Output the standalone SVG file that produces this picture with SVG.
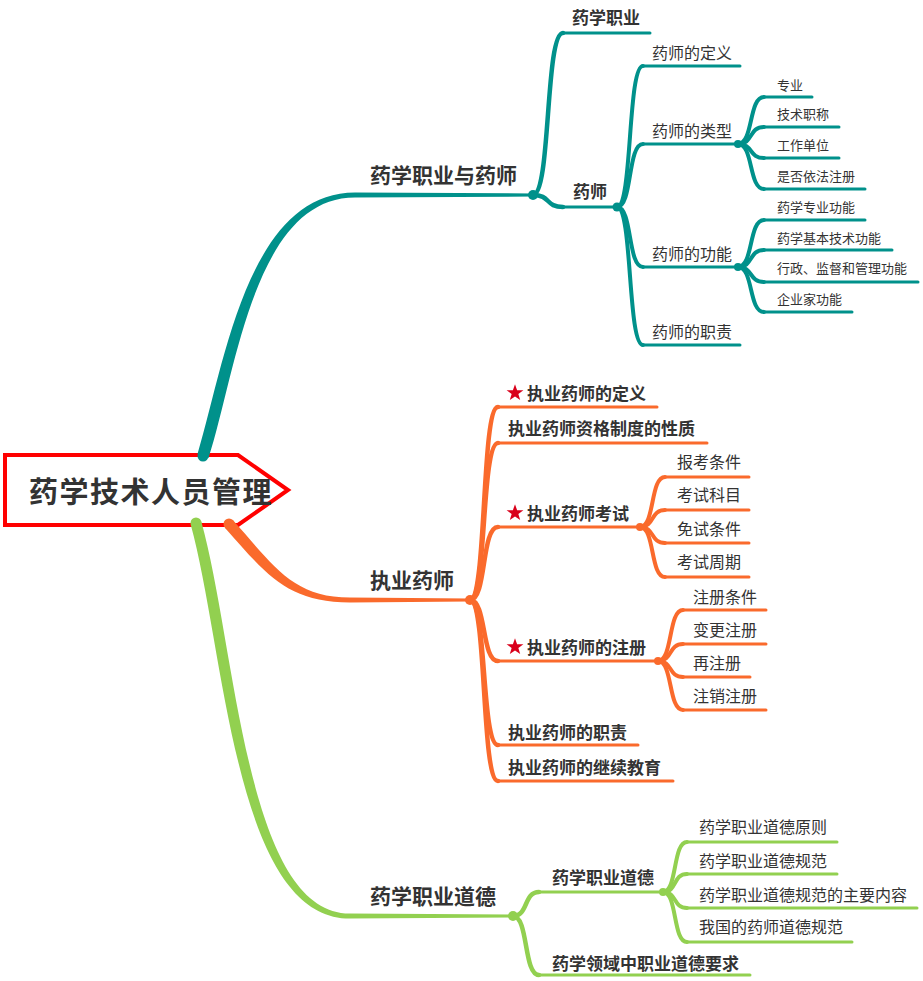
<svg xmlns="http://www.w3.org/2000/svg" width="923" height="981" viewBox="0 0 923 981">
<style>
text{font-family:"Noto Sans CJK SC","Noto Sans CJK JP",sans-serif;fill:#333}
.root{font-size:29px;font-weight:bold;letter-spacing:1.5px}
.l1{font-size:21px;font-weight:bold}
.l2{font-size:17px;font-weight:bold}
.l3{font-size:16px}
.l4{font-size:13px}
.t{stroke:#00918b;fill:none;stroke-linecap:round}
.o{stroke:#fa6a2c;fill:none;stroke-linecap:round}
.g{stroke:#92d050;fill:none;stroke-linecap:round}
.c{stroke-width:4.5}
.c2{stroke-width:4}
.u{stroke-width:3}
</style>
<defs>
<polygon id="star" points="0,-8.8 2.1,-2.85 8.4,-2.73 3.35,1.1 5.2,7.1 0,3.5 -5.2,7.1 -3.35,1.1 -8.4,-2.73 -2.1,-2.85" fill="#d9001b"/>
</defs>
<g id="root">
<polygon points="5,455 238,455 288,490 238,525 5,525" fill="#fff" stroke="#ff0000" stroke-width="4" stroke-linejoin="miter"/>
<text class="root" x="29" y="503">药学技术人员管理</text>
</g>
<g id="connectors">
<!-- main branches -->
<path d="M197.5,454 C224,367 247,192.5 355,192.5 L533,193.5 L533,196.5 L355,197.5 C254,197.5 236,373 208.5,458 Z" fill="#00918b"/>
<circle cx="203" cy="456" r="5.5" fill="#00918b"/>
<circle cx="533" cy="195" r="5" fill="#00918b"/>
<path d="M233.1,520.3 C274,566 293,597.5 350,597.5 L470,598.5 L470,601.5 L350,602.5 C287,602.5 266,574 224.9,527.7 Z" fill="#fa6a2c"/>
<circle cx="229" cy="524" r="5.5" fill="#fa6a2c"/>
<circle cx="470" cy="600" r="5" fill="#fa6a2c"/>
<path d="M201.3,521.5 C236.5,648 245.5,913.5 350,913.5 L513,914.5 L513,917.5 L350,918.5 C234.5,918.5 225.5,652 190.7,524.5 Z" fill="#92d050"/>
<circle cx="196" cy="523" r="5.5" fill="#92d050"/>
<circle cx="513" cy="916" r="5" fill="#92d050"/>
<!-- teal level 1 -->
<path class="t c" d="M533,195 C551,195 545,33 563,33"/>
<path class="t u" d="M563,33 L650,33"/>
<path class="t c" d="M533,195 C551,195 545,207 563,207"/>
<path class="t u" d="M563,207 L617,207"/>
<circle cx="617" cy="207" r="4.5" fill="#00918b"/>
<!-- teal level 2 -->
<path class="t c2" d="M617,207 C632.6,207 627.4,66 643,66"/>
<path class="t u" d="M643,66 L740,66"/>
<path class="t c2" d="M617,207 C632.6,207 627.4,144 643,144"/>
<path class="t u" d="M643,144 L738,144"/>
<path class="t c2" d="M617,207 C632.6,207 627.4,267 643,267"/>
<path class="t u" d="M643,267 L738,267"/>
<path class="t c2" d="M617,207 C632.6,207 627.4,345 643,345"/>
<path class="t u" d="M643,345 L740,345"/>
<circle cx="738" cy="144" r="4" fill="#00918b"/>
<circle cx="738" cy="267" r="4" fill="#00918b"/>
<!-- teal level 3 -->
<path class="t c2" d="M738,144 C753.6,144 748.4,97 764,97"/>
<path class="t u" d="M764,97 L812,97"/>
<path class="t c2" d="M738,144 C753.6,144 748.4,127 764,127"/>
<path class="t u" d="M764,127 L839,127"/>
<path class="t c2" d="M738,144 C753.6,144 748.4,158 764,158"/>
<path class="t u" d="M764,158 L839,158"/>
<path class="t c2" d="M738,144 C753.6,144 748.4,189 764,189"/>
<path class="t u" d="M764,189 L865,189"/>
<path class="t c2" d="M738,267 C753.6,267 748.4,220 764,220"/>
<path class="t u" d="M764,220 L865,220"/>
<path class="t c2" d="M738,267 C753.6,267 748.4,250 764,250"/>
<path class="t u" d="M764,250 L892,250"/>
<path class="t c2" d="M738,267 C753.6,267 748.4,282 764,282"/>
<path class="t u" d="M764,282 L918,282"/>
<path class="t c2" d="M738,267 C753.6,267 748.4,312 764,312"/>
<path class="t u" d="M764,312 L852,312"/>
<!-- orange level 1 -->
<path class="o c" d="M470,600 C486.8,600 481.2,407 498,407"/>
<path class="o u" d="M498,407 L657,407"/>
<path class="o c" d="M470,600 C486.8,600 481.2,443 498,443"/>
<path class="o u" d="M498,443 L707,443"/>
<path class="o c" d="M470,600 C486.8,600 481.2,527 498,527"/>
<path class="o u" d="M498,527 L640,527"/>
<path class="o c" d="M470,600 C486.8,600 481.2,661 498,661"/>
<path class="o u" d="M498,661 L658,661"/>
<path class="o c" d="M470,600 C486.8,600 481.2,745 498,745"/>
<path class="o u" d="M498,745 L638,745"/>
<path class="o c" d="M470,600 C486.8,600 481.2,781 498,781"/>
<path class="o u" d="M498,781 L673,781"/>
<circle cx="640" cy="527" r="4" fill="#fa6a2c"/>
<circle cx="658" cy="661" r="4" fill="#fa6a2c"/>
<!-- orange level 2 -->
<path class="o c2" d="M640,527 C655,527 650,477 665,477"/>
<path class="o u" d="M665,477 L749,477"/>
<path class="o c2" d="M640,527 C655,527 650,510 665,510"/>
<path class="o u" d="M665,510 L749,510"/>
<path class="o c2" d="M640,527 C655,527 650,543 665,543"/>
<path class="o u" d="M665,543 L749,543"/>
<path class="o c2" d="M640,527 C655,527 650,577 665,577"/>
<path class="o u" d="M665,577 L749,577"/>
<path class="o c2" d="M658,661 C673,661 668,610 683,610"/>
<path class="o u" d="M683,610 L766,610"/>
<path class="o c2" d="M658,661 C673,661 668,644 683,644"/>
<path class="o u" d="M683,644 L766,644"/>
<path class="o c2" d="M658,661 C673,661 668,677 683,677"/>
<path class="o u" d="M683,677 L750,677"/>
<path class="o c2" d="M658,661 C673,661 668,710 683,710"/>
<path class="o u" d="M683,710 L766,710"/>
<!-- green level 1 -->
<path class="g c" d="M513,916 C528.6,916 523.4,892 539,892"/>
<path class="g u" d="M539,892 L663,892"/>
<path class="g c" d="M513,916 C528.6,916 523.4,975 539,975"/>
<path class="g u" d="M539,975 L750,975"/>
<circle cx="663" cy="892" r="4" fill="#92d050"/>
<!-- green level 2 -->
<path class="g c2" d="M663,892 C677.4,892 672.6,842 687,842"/>
<path class="g u" d="M687,842 L837,842"/>
<path class="g c2" d="M663,892 C677.4,892 672.6,874 687,874"/>
<path class="g u" d="M687,874 L837,874"/>
<path class="g c2" d="M663,892 C677.4,892 672.6,908 687,908"/>
<path class="g u" d="M687,908 L917,908"/>
<path class="g c2" d="M663,892 C677.4,892 672.6,942 687,942"/>
<path class="g u" d="M687,942 L852,942"/>
</g>
<g id="n-zyys"><text class="l1" x="370" y="183">药学职业与药师</text></g>
<g id="n-yxzy"><text class="l2" x="572" y="24">药学职业</text></g>
<g id="n-ys"><text class="l2" x="573" y="198">药师</text></g>
<g id="n-ysdy"><text class="l3" x="652" y="59">药师的定义</text></g>
<g id="n-yslx"><text class="l3" x="652" y="137">药师的类型</text></g>
<g id="n-zy"><text class="l4" x="777" y="90">专业</text></g>
<g id="n-jszc"><text class="l4" x="777" y="119">技术职称</text></g>
<g id="n-gzdw"><text class="l4" x="777" y="150">工作单位</text></g>
<g id="n-sfyf"><text class="l4" x="777" y="181">是否依法注册</text></g>
<g id="n-ysgn"><text class="l3" x="652" y="260">药师的功能</text></g>
<g id="n-yxzygn"><text class="l4" x="777" y="212">药学专业功能</text></g>
<g id="n-jbjs"><text class="l4" x="777" y="243">药学基本技术功能</text></g>
<g id="n-xz"><text class="l4" x="777" y="273">行政、监督和管理功能</text></g>
<g id="n-qyj"><text class="l4" x="777" y="304">企业家功能</text></g>
<g id="n-yszz"><text class="l3" x="652" y="338">药师的职责</text></g>
<g id="n-zyys2"><text class="l1" x="370" y="588">执业药师</text></g>
<g id="n-dy"><use href="#star" x="515" y="393"/><text class="l2" x="527" y="399.5">执业药师的定义</text></g>
<g id="n-xz2"><text class="l2" x="508" y="434.5">执业药师资格制度的性质</text></g>
<g id="n-ks"><use href="#star" x="515" y="513"/><text class="l2" x="527" y="519.5">执业药师考试</text></g>
<g id="n-bk"><text class="l3" x="677" y="468">报考条件</text></g>
<g id="n-kskm"><text class="l3" x="677" y="501">考试科目</text></g>
<g id="n-ms"><text class="l3" x="677" y="535">免试条件</text></g>
<g id="n-zq"><text class="l3" x="677" y="568">考试周期</text></g>
<g id="n-zc"><use href="#star" x="515" y="647"/><text class="l2" x="527" y="653.5">执业药师的注册</text></g>
<g id="n-zctj"><text class="l3" x="693" y="603">注册条件</text></g>
<g id="n-bgzc"><text class="l3" x="693" y="636">变更注册</text></g>
<g id="n-zzc"><text class="l3" x="693" y="669">再注册</text></g>
<g id="n-zxzc"><text class="l3" x="693" y="702">注销注册</text></g>
<g id="n-zz"><text class="l2" x="508" y="738.5">执业药师的职责</text></g>
<g id="n-jx"><text class="l2" x="508" y="773.5">执业药师的继续教育</text></g>
<g id="n-ddmain"><text class="l1" x="370" y="904">药学职业道德</text></g>
<g id="n-dd"><text class="l2" x="552" y="883.5">药学职业道德</text></g>
<g id="n-yz"><text class="l3" x="699" y="833">药学职业道德原则</text></g>
<g id="n-gf"><text class="l3" x="699" y="867">药学职业道德规范</text></g>
<g id="n-nr"><text class="l3" x="699" y="901">药学职业道德规范的主要内容</text></g>
<g id="n-wg"><text class="l3" x="699" y="933">我国的药师道德规范</text></g>
<g id="n-ly"><text class="l2" x="552" y="969.5">药学领域中职业道德要求</text></g>
</svg>
